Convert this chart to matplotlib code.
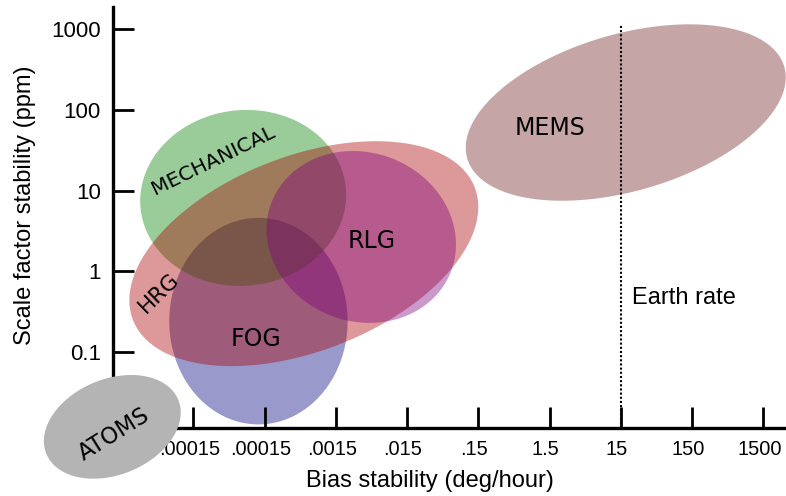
import numpy as np
import matplotlib
matplotlib.use('Agg')
from matplotlib import pyplot as plt
from matplotlib.ticker import NullLocator
from matplotlib.transforms import ScaledTranslation

# gyro technologies, ranges
techs = ['FOG', 'MECHANICAL', 'HRG', 'RLG', 'MEMS', 'ATOMS']
bias_lo = [6.9e-6, 2.7e-6, 1.9e-6, 1.6e-4, 0.10, 1.2e-7]   # deg/hour
bias_hi = [2.2e-3, 2.1e-3, 0.15, 0.073, 3100, 1.0e-5]
sf_lo = [0.0127, 0.66, 0.067, 0.23, 7.5, 0.0027]           # ppm
sf_hi = [4.6, 100, 41, 31, 1150, 0.052]
tilt = [90, 88, 65.5, 95, 66.5, 74]   # x/y phase (deg), 90 = upright ellipse

bias_ticks = [1.5e-5, 1.5e-4, 1.5e-3, 1.5e-2, 0.15, 1.5, 15, 150, 1500]
# first label reads ".00015" on the original too (mostly hidden behind ATOMS)
bias_tick_labels = ['.00015', '.00015', '.0015', '.015', '.15', '1.5', '15', '150', '1500']
sf_ticks = [0.1, 1, 10, 100, 1000]
sf_tick_labels = ['0.1', '1', '10', '100', '1000']

earth_rate = 15
earth_rate_top = 1150

# styles / label placement
colors = ['navy', 'green', '#aa0000', 'purple', '#701e1e', '#b4b4b4']
alphas = [0.4, 0.4, 0.4, 0.4, 0.4, 1.0]
label_x = [1.14e-4, 2.9e-5, 4.98e-6, 4.79e-3, 1.5, 1.16e-6]
label_y = [0.145, 23.7, 0.533, 2.41, 59.2, 0.00957]
label_rot = [0, 26, 44, 0, 0, 32]
label_size = [17, 14.7, 15.5, 17, 17, 16.3]

plt.rcParams['font.family'] = ['Liberation Sans', 'DejaVu Sans']

fig = plt.figure(figsize=(7.86, 4.96), dpi=100)
ax = fig.add_axes([0.1441, 0.1361, 0.8559, 0.8492])
ax.set_xscale('log')
ax.set_yscale('log')
ax.set_xlim(1.13e-6, 3125)
ax.set_ylim(0.0113, 1870)

t = np.linspace(0, 2 * np.pi, 300)
for i, name in enumerate(techs):
    x0, x1 = np.log10(bias_lo[i]), np.log10(bias_hi[i])
    y0, y1 = np.log10(sf_lo[i]), np.log10(sf_hi[i])
    cx, wx = (x0 + x1) / 2, (x1 - x0) / 2
    cy, wy = (y0 + y1) / 2, (y1 - y0) / 2
    lx = cx + wx * np.cos(t)
    ly = cy + wy * np.cos(t - np.radians(tilt[i]))
    on_top = name == 'ATOMS'
    ax.fill(10 ** lx, 10 ** ly, color=colors[i], alpha=alphas[i], lw=0,
            zorder=4 if on_top else 1, clip_on=not on_top)
    ax.text(label_x[i], label_y[i], name, family='DejaVu Sans', size=label_size[i],
            rotation=label_rot[i], ha='center', va='center',
            zorder=5 if on_top else 3)

ax.plot([earth_rate, earth_rate], [ax.get_ylim()[0], earth_rate_top], color='black',
        lw=1.5, linestyle=(0, (1, 1)), zorder=2)
ax.text(21.3, 0.471, 'Earth rate', size=17, ha='left', va='center')

for side in ['top', 'right']:
    ax.spines[side].set_visible(False)
for side in ['left', 'bottom']:
    ax.spines[side].set_linewidth(2.4)

ax.set_xticks(bias_ticks, labels=bias_tick_labels)
ax.set_yticks(sf_ticks, labels=sf_tick_labels)
ax.xaxis.set_minor_locator(NullLocator())
ax.yaxis.set_minor_locator(NullLocator())
ax.tick_params(axis='both', direction='in', length=15, width=2)
ax.tick_params(axis='x', labelsize=14.4, pad=8.5)
ax.tick_params(axis='y', labelsize=16, pad=9)

# x tick labels sit a few pixels left of their ticks on the original
shift = ScaledTranslation(-4 / 100, 0, fig.dpi_scale_trans)
for lab in ax.get_xticklabels():
    lab.set_transform(lab.get_transform() + shift)

fig.text(430 / 786, 1 - 481 / 496, 'Bias stability (deg/hour)', size=17,
         ha='center', va='center')
fig.text(25 / 786, 1 - 205 / 496, 'Scale factor stability (ppm)', size=17,
         rotation=90, ha='center', va='center')

fig.savefig('out.png', dpi=100)
